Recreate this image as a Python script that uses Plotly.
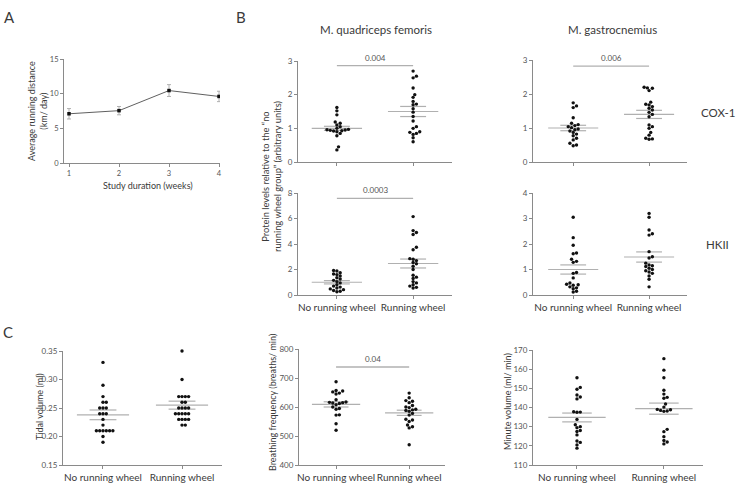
import plotly.graph_objects as go

W, H = 745, 485

# ---------------- data ----------------
weeks = [1, 2, 3, 4]
run_dist = [7.1, 7.55, 10.45, 9.6]
run_dist_sem = [0.75, 0.6, 0.85, 0.75]

groups = ["No running wheel", "Running wheel"]

quad_cox_none = [1.62, 1.52, 1.40, 1.19, 1.15, 1.10, 1.05, 1.00, 0.97, 0.96, 0.95,
                 0.94, 0.93, 0.92, 0.90, 0.85, 0.78, 0.45, 0.36]
quad_cox_run = [2.70, 2.55, 2.50, 2.20, 2.00, 1.92, 1.80, 1.72, 1.70, 1.58, 1.48,
                1.35, 1.22, 1.05, 1.00, 0.90, 0.88, 0.85, 0.82, 0.72, 0.60]
gas_cox_none = [1.74, 1.65, 1.60, 1.30, 1.14, 1.10, 1.07, 1.04, 1.01, 0.97, 0.95,
                0.91, 0.87, 0.82, 0.77, 0.70, 0.65, 0.55, 0.50, 0.48]
gas_cox_run = [2.20, 2.18, 2.17, 2.10, 1.76, 1.70, 1.68, 1.63, 1.58, 1.53, 1.46,
               1.40, 1.33, 1.09, 1.04, 0.99, 0.87, 0.79, 0.70, 0.68, 0.67]
quad_hk_none = [1.92, 1.88, 1.75, 1.65, 1.60, 1.50, 1.35, 1.25, 1.15, 1.05, 0.95,
                0.80, 0.70, 0.62, 0.55, 0.48, 0.42, 0.35, 0.30, 0.25]
quad_hk_run = [6.15, 5.05, 4.90, 4.75, 3.75, 3.55, 2.85, 2.80, 2.70, 2.55, 2.45,
               2.25, 2.00, 1.55, 1.40, 1.30, 1.05, 0.95, 0.80, 0.70, 0.60, 0.55]
gas_hk_none = [3.05, 2.25, 1.95, 1.65, 1.62, 1.40, 1.32, 1.28, 0.88, 0.85, 0.67,
               0.47, 0.42, 0.40, 0.38, 0.32, 0.28, 0.25, 0.15, 0.12]
gas_hk_run = [3.20, 3.05, 2.55, 2.40, 2.35, 1.70, 1.50, 1.45, 1.25, 1.18, 1.15,
              1.12, 1.05, 1.00, 0.95, 0.90, 0.85, 0.75, 0.62, 0.32]
tidal_none = [0.33, 0.29, 0.27, 0.26, 0.26, 0.25, 0.25, 0.25, 0.24, 0.24, 0.24,
              0.23, 0.22, 0.21, 0.21, 0.21, 0.21, 0.21, 0.21, 0.20, 0.19]
tidal_run = [0.35, 0.30, 0.27, 0.27, 0.27, 0.27, 0.26, 0.26, 0.25, 0.25, 0.25,
             0.25, 0.24, 0.24, 0.24, 0.24, 0.24, 0.23, 0.23, 0.23, 0.23, 0.22, 0.22]
breath_none = [687, 657, 655, 652, 648, 645, 625, 617, 616, 615, 614, 612, 608,
               600, 595, 592, 573, 572, 542, 520]
breath_run = [648, 632, 622, 620, 615, 605, 600, 598, 592, 590, 588, 585, 578,
              572, 558, 555, 550, 538, 532, 528, 470]
minvol_none = [155.5, 150.5, 149.5, 146.5, 145.5, 144.5, 137.8, 137.6, 137.5,
               133.8, 131.0, 130.0, 129.5, 128.0, 127.5, 125.7, 122.5, 121.8,
               120.5, 118.8]
minvol_run = [165.5, 159.5, 155.5, 149.0, 147.0, 145.3, 144.8, 141.8, 140.2,
              139.0, 138.8, 138.5, 138.2, 138.0, 128.6, 127.4, 124.8, 122.8,
              122.0, 121.0]

# group means and SEM as drawn
quad_cox_mean, quad_cox_sem = [1.00, 1.50], [0.06, 0.15]
gas_cox_mean, gas_cox_sem = [1.00, 1.40], [0.08, 0.12]
quad_hk_mean, quad_hk_sem = [1.00, 2.47], [0.13, 0.35]
gas_hk_mean, gas_hk_sem = [1.00, 1.49], [0.18, 0.20]
tidal_mean, tidal_sem = [0.238, 0.255], [0.0085, 0.007]
breath_mean, breath_sem = [609, 580], [9, 9]
minvol_mean, minvol_sem = [134.8, 139.4], [2.3, 2.9]

# significance (p-values)
p_quad_cox, p_gas_cox, p_quad_hk, p_breath = "0.004", "0.006", "0.0003", "0.04"

# ---------------- layout helpers ----------------
TXT = "#3a3a3a"
AX = "#8a8a8a"
FONT = "Lato"

fig = go.Figure()
layout = dict(width=W, height=H, margin=dict(l=0, r=0, t=0, b=0, pad=0), autosize=False,
              paper_bgcolor="white", plot_bgcolor="white", showlegend=False,
              font=dict(family=FONT, color=TXT))
annotations = []


def ax_style(**kw):
    d = dict(showline=True, linecolor=AX, linewidth=1, ticks="outside", ticklen=3,
             tickwidth=1, tickcolor=AX, showgrid=False, zeroline=False, tickangle=0,
             automargin=False,
             tickfont=dict(size=8, color="#555555", family=FONT), fixedrange=True)
    d.update(kw)
    return d


def add_axes(i, xdom_px, ydom_px, xrange, yrange, xkw, ykw):
    xs = "" if i == 1 else str(i)
    layout["xaxis" + xs] = ax_style(domain=[xdom_px[0] / W, xdom_px[1] / W],
                                    range=xrange, anchor="y" + xs, **xkw)
    layout["yaxis" + xs] = ax_style(domain=[1 - ydom_px[0] / H, 1 - ydom_px[1] / H],
                                    range=yrange, anchor="x" + xs, **ykw)
    return "x" + xs, "y" + xs


def swarm(vals, pxu_x, pxu_y, diam=3.3):
    placed = []
    offs = [0.0] * len(vals)
    order = sorted(range(len(vals)), key=lambda k: vals[k])
    step = diam * 0.5
    for k in order:
        yp = vals[k] * pxu_y
        cands = [0]
        for m in range(1, 40):
            cands += [m * step, -m * step]
        for xp in cands:
            if all((xp - a) ** 2 + (yp - b) ** 2 >= (diam * 0.95) ** 2 for a, b in placed):
                break
        placed.append((xp, yp))
        offs[k] = xp / pxu_x
    return offs


def dot_panel(i, xdom_px, ydom_px, xrange, yrange, yticks, ytickfmt, labels,
              v_none, v_run, mean, sem, sig=None, sig_y=None):
    xkw = dict(tickvals=[0, 1], ticktext=groups if labels else ["", ""],
               tickfont=dict(size=10, color=TXT, family=FONT))
    ykw = dict(tickvals=yticks, tickformat=ytickfmt)
    xa, ya = add_axes(i, xdom_px, ydom_px, xrange, yrange, xkw, ykw)
    pxu_x = (xdom_px[1] - xdom_px[0]) / (xrange[1] - xrange[0])
    pxu_y = (ydom_px[0] - ydom_px[1]) / (yrange[1] - yrange[0])
    lx, ly = [], []
    for g in range(2):
        lx += [g - 0.33, g + 0.33, None, g - 0.17, g + 0.17, None, g - 0.17, g + 0.17, None]
        ly += [mean[g], mean[g], None, mean[g] + sem[g], mean[g] + sem[g], None,
               mean[g] - sem[g], mean[g] - sem[g], None]
    fig.add_trace(go.Scatter(x=lx, y=ly, mode="lines", line=dict(color="#b0b0b0", width=1.2),
                             xaxis=xa, yaxis=ya, hoverinfo="skip"))
    for g, vals in enumerate([v_none, v_run]):
        offs = swarm(vals, pxu_x, pxu_y)
        fig.add_trace(go.Scatter(x=[g + o for o in offs], y=vals, mode="markers",
                                 marker=dict(size=3.4, color="#111111"),
                                 xaxis=xa, yaxis=ya, cliponaxis=False))
    if sig is not None:
        fig.add_trace(go.Scatter(x=[0, 1], y=[sig_y, sig_y], mode="lines",
                                 line=dict(color="#b0b0b0", width=1.3),
                                 xaxis=xa, yaxis=ya, cliponaxis=False))
        annotations.append(dict(x=0.5, y=sig_y, xref=xa, yref=ya, text=sig,
                                showarrow=False, yanchor="bottom", yshift=1,
                                font=dict(size=8, color="#555555")))


# ---------------- Panel A ----------------
xa, ya = add_axes(1, (64, 220), (163, 59), [0.9, 4.02], [0, 15],
                  dict(tickvals=weeks, tickfont=dict(size=7.5, color="#555555", family=FONT)),
                  dict(tickvals=[0, 5, 10, 15], tickfont=dict(size=7.5, color="#555555", family=FONT)))
fig.add_trace(go.Scatter(x=weeks, y=run_dist, mode="lines+markers",
                         line=dict(color="#606060", width=1),
                         marker=dict(size=3.5, color="#111111", symbol="square"),
                         error_y=dict(type="data", array=run_dist_sem, color="#b0b0b0",
                                      thickness=1, width=2),
                         xaxis=xa, yaxis=ya))

# ---------------- Panel B ----------------
dot_panel(2, (298, 452), (162, 61), [-0.51, 1.51], [0, 3], [0, 1, 2, 3], None, False,
          quad_cox_none, quad_cox_run, quad_cox_mean, quad_cox_sem, p_quad_cox, 2.86)
dot_panel(3, (533, 687), (162, 60), [-0.53, 1.5], [0, 3], [0, 1, 2, 3], None, False,
          gas_cox_none, gas_cox_run, gas_cox_mean, gas_cox_sem, p_gas_cox, 2.82)
dot_panel(4, (298, 452), (295, 193), [-0.51, 1.51], [0, 8], [0, 2, 4, 6, 8], None, True,
          quad_hk_none, quad_hk_run, quad_hk_mean, quad_hk_sem, p_quad_hk, 7.58)
dot_panel(5, (533, 687), (295, 193), [-0.53, 1.5], [0, 4], [0, 1, 2, 3, 4], None, True,
          gas_hk_none, gas_hk_run, gas_hk_mean, gas_hk_sem)

# ---------------- Panel C ----------------
dot_panel(6, (63, 222), (465, 351), [-0.506, 1.506], [0.15, 0.35],
          [0.15, 0.20, 0.25, 0.30, 0.35], ".2f", True,
          tidal_none, tidal_run, tidal_mean, tidal_sem)
dot_panel(7, (299, 445), (465, 349), [-0.507, 1.49], [400, 800],
          [400, 500, 600, 700, 800], None, True,
          breath_none, breath_run, breath_mean, breath_sem, p_breath, 738)
dot_panel(8, (533, 703), (465, 350), [-0.506, 1.45], [110, 170],
          [110, 120, 130, 140, 150, 160, 170], None, True,
          minvol_none, minvol_run, minvol_mean, minvol_sem)


# ---------------- text ----------------
def txt(x, y, s, size, angle=0, color=TXT):
    annotations.append(dict(x=x / W, y=1 - y / H, xref="paper", yref="paper", text=s,
                            showarrow=False, textangle=angle, xanchor="center",
                            yanchor="middle", font=dict(size=size, color=color, family=FONT)))


txt(9, 17, "A", 15)
txt(241, 17, "B", 15)
txt(8, 332, "C", 15)
txt(376, 29, "M. quadriceps femoris", 11.5)
txt(612, 29, "M. gastrocnemius", 11.5)
txt(718, 112, "COX-1", 11.5)
txt(717, 244, "HKII", 11.5)
txt(38, 111, "Average running distance<br>(km/ day)", 9, -90)
txt(148, 185, "Study duration (weeks)", 9)
txt(271, 176, "Protein levels relative to the \u201cno<br>running wheel group\u201d (arbitrary units)", 9.3, -90)
txt(39, 407, "Tidal volume (ml)", 9, -90)
txt(272, 403, "Breathing frequency (breaths/ min)", 9, -90)
txt(507, 402, "Minute volume (ml/ min)", 9, -90)

layout["annotations"] = annotations
fig.update_layout(**layout)
fig.write_html("out.html")
